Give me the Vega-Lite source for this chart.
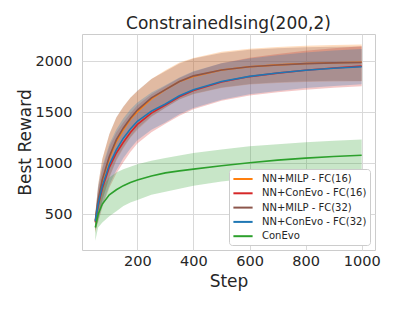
{
  "$schema": "https://vega.github.io/schema/vega-lite/v6.json",
  "width": 293,
  "height": 216,
  "autosize": "none",
  "padding": {"left": 82, "top": 34, "right": 24, "bottom": 60},
  "background": "white",
  "title": {"text": "ConstrainedIsing(200,2)", "fontSize": 17, "font": "DejaVu Sans", "fontWeight": "normal", "color": "#262626", "offset": 1},
  "config": {
    "view": {"stroke": "#cccccc", "strokeWidth": 1},
    "axis": {"domain": false, "ticks": false, "gridColor": "#d9d9d9", "gridWidth": 1, "labelFont": "DejaVu Sans", "titleFont": "DejaVu Sans", "labelFontSize": 14.5, "titleFontSize": 17, "titleFontWeight": "normal", "labelColor": "#262626", "titleColor": "#262626", "format": "d"},
    "legend": {"labelFont": "DejaVu Sans"}
  },
  "datasets": {
    "d": [
      {"series": "NN+MILP - FC(16)", "step": 50, "mean": 430, "lower": 320, "upper": 500},
      {"series": "NN+MILP - FC(16)", "step": 60, "mean": 620, "lower": 450, "upper": 780},
      {"series": "NN+MILP - FC(16)", "step": 75, "mean": 830, "lower": 635, "upper": 1040},
      {"series": "NN+MILP - FC(16)", "step": 100, "mean": 1050, "lower": 855, "upper": 1280},
      {"series": "NN+MILP - FC(16)", "step": 125, "mean": 1215, "lower": 1025, "upper": 1445},
      {"series": "NN+MILP - FC(16)", "step": 150, "mean": 1330, "lower": 1145, "upper": 1550},
      {"series": "NN+MILP - FC(16)", "step": 175, "mean": 1430, "lower": 1250, "upper": 1640},
      {"series": "NN+MILP - FC(16)", "step": 200, "mean": 1505, "lower": 1325, "upper": 1705},
      {"series": "NN+MILP - FC(16)", "step": 250, "mean": 1630, "lower": 1452, "upper": 1825},
      {"series": "NN+MILP - FC(16)", "step": 300, "mean": 1720, "lower": 1544, "upper": 1910},
      {"series": "NN+MILP - FC(16)", "step": 350, "mean": 1800, "lower": 1625, "upper": 1985},
      {"series": "NN+MILP - FC(16)", "step": 400, "mean": 1850, "lower": 1675, "upper": 2030},
      {"series": "NN+MILP - FC(16)", "step": 500, "mean": 1912, "lower": 1737, "upper": 2090},
      {"series": "NN+MILP - FC(16)", "step": 600, "mean": 1945, "lower": 1770, "upper": 2121},
      {"series": "NN+MILP - FC(16)", "step": 700, "mean": 1963, "lower": 1785, "upper": 2138},
      {"series": "NN+MILP - FC(16)", "step": 800, "mean": 1976, "lower": 1796, "upper": 2151},
      {"series": "NN+MILP - FC(16)", "step": 900, "mean": 1983, "lower": 1800, "upper": 2158},
      {"series": "NN+MILP - FC(16)", "step": 1000, "mean": 1988, "lower": 1803, "upper": 2163},

      {"series": "NN+ConEvo - FC(16)", "step": 50, "mean": 420, "lower": 340, "upper": 500},
      {"series": "NN+ConEvo - FC(16)", "step": 60, "mean": 580, "lower": 420, "upper": 740},
      {"series": "NN+ConEvo - FC(16)", "step": 75, "mean": 755, "lower": 565, "upper": 945},
      {"series": "NN+ConEvo - FC(16)", "step": 100, "mean": 960, "lower": 760, "upper": 1160},
      {"series": "NN+ConEvo - FC(16)", "step": 125, "mean": 1100, "lower": 900, "upper": 1300},
      {"series": "NN+ConEvo - FC(16)", "step": 150, "mean": 1205, "lower": 1010, "upper": 1400},
      {"series": "NN+ConEvo - FC(16)", "step": 175, "mean": 1300, "lower": 1110, "upper": 1490},
      {"series": "NN+ConEvo - FC(16)", "step": 200, "mean": 1380, "lower": 1192, "upper": 1568},
      {"series": "NN+ConEvo - FC(16)", "step": 250, "mean": 1490, "lower": 1304, "upper": 1676},
      {"series": "NN+ConEvo - FC(16)", "step": 300, "mean": 1570, "lower": 1385, "upper": 1755},
      {"series": "NN+ConEvo - FC(16)", "step": 350, "mean": 1650, "lower": 1465, "upper": 1835},
      {"series": "NN+ConEvo - FC(16)", "step": 400, "mean": 1712, "lower": 1528, "upper": 1896},
      {"series": "NN+ConEvo - FC(16)", "step": 500, "mean": 1795, "lower": 1611, "upper": 1979},
      {"series": "NN+ConEvo - FC(16)", "step": 600, "mean": 1848, "lower": 1663, "upper": 2033},
      {"series": "NN+ConEvo - FC(16)", "step": 700, "mean": 1882, "lower": 1695, "upper": 2069},
      {"series": "NN+ConEvo - FC(16)", "step": 800, "mean": 1910, "lower": 1720, "upper": 2100},
      {"series": "NN+ConEvo - FC(16)", "step": 900, "mean": 1932, "lower": 1739, "upper": 2125},
      {"series": "NN+ConEvo - FC(16)", "step": 1000, "mean": 1950, "lower": 1754, "upper": 2146},

      {"series": "NN+MILP - FC(32)", "step": 50, "mean": 440, "lower": 320, "upper": 500},
      {"series": "NN+MILP - FC(32)", "step": 60, "mean": 640, "lower": 460, "upper": 790},
      {"series": "NN+MILP - FC(32)", "step": 75, "mean": 840, "lower": 640, "upper": 1040},
      {"series": "NN+MILP - FC(32)", "step": 100, "mean": 1065, "lower": 865, "upper": 1285},
      {"series": "NN+MILP - FC(32)", "step": 125, "mean": 1230, "lower": 1035, "upper": 1450},
      {"series": "NN+MILP - FC(32)", "step": 150, "mean": 1345, "lower": 1155, "upper": 1555},
      {"series": "NN+MILP - FC(32)", "step": 175, "mean": 1440, "lower": 1255, "upper": 1640},
      {"series": "NN+MILP - FC(32)", "step": 200, "mean": 1520, "lower": 1340, "upper": 1710},
      {"series": "NN+MILP - FC(32)", "step": 250, "mean": 1640, "lower": 1460, "upper": 1825},
      {"series": "NN+MILP - FC(32)", "step": 300, "mean": 1720, "lower": 1542, "upper": 1900},
      {"series": "NN+MILP - FC(32)", "step": 350, "mean": 1800, "lower": 1624, "upper": 1975},
      {"series": "NN+MILP - FC(32)", "step": 400, "mean": 1855, "lower": 1680, "upper": 2025},
      {"series": "NN+MILP - FC(32)", "step": 500, "mean": 1912, "lower": 1740, "upper": 2080},
      {"series": "NN+MILP - FC(32)", "step": 600, "mean": 1945, "lower": 1775, "upper": 2110},
      {"series": "NN+MILP - FC(32)", "step": 700, "mean": 1962, "lower": 1792, "upper": 2125},
      {"series": "NN+MILP - FC(32)", "step": 800, "mean": 1975, "lower": 1803, "upper": 2135},
      {"series": "NN+MILP - FC(32)", "step": 900, "mean": 1982, "lower": 1807, "upper": 2140},
      {"series": "NN+MILP - FC(32)", "step": 1000, "mean": 1986, "lower": 1806, "upper": 2143},

      {"series": "NN+ConEvo - FC(32)", "step": 50, "mean": 430, "lower": 350, "upper": 510},
      {"series": "NN+ConEvo - FC(32)", "step": 60, "mean": 600, "lower": 440, "upper": 760},
      {"series": "NN+ConEvo - FC(32)", "step": 75, "mean": 775, "lower": 585, "upper": 965},
      {"series": "NN+ConEvo - FC(32)", "step": 100, "mean": 985, "lower": 785, "upper": 1185},
      {"series": "NN+ConEvo - FC(32)", "step": 125, "mean": 1130, "lower": 930, "upper": 1330},
      {"series": "NN+ConEvo - FC(32)", "step": 150, "mean": 1245, "lower": 1050, "upper": 1440},
      {"series": "NN+ConEvo - FC(32)", "step": 175, "mean": 1335, "lower": 1145, "upper": 1525},
      {"series": "NN+ConEvo - FC(32)", "step": 200, "mean": 1410, "lower": 1225, "upper": 1595},
      {"series": "NN+ConEvo - FC(32)", "step": 250, "mean": 1510, "lower": 1327, "upper": 1693},
      {"series": "NN+ConEvo - FC(32)", "step": 300, "mean": 1580, "lower": 1398, "upper": 1762},
      {"series": "NN+ConEvo - FC(32)", "step": 350, "mean": 1660, "lower": 1480, "upper": 1840},
      {"series": "NN+ConEvo - FC(32)", "step": 400, "mean": 1720, "lower": 1540, "upper": 1900},
      {"series": "NN+ConEvo - FC(32)", "step": 500, "mean": 1800, "lower": 1622, "upper": 1978},
      {"series": "NN+ConEvo - FC(32)", "step": 600, "mean": 1850, "lower": 1674, "upper": 2026},
      {"series": "NN+ConEvo - FC(32)", "step": 700, "mean": 1883, "lower": 1708, "upper": 2058},
      {"series": "NN+ConEvo - FC(32)", "step": 800, "mean": 1910, "lower": 1736, "upper": 2084},
      {"series": "NN+ConEvo - FC(32)", "step": 900, "mean": 1930, "lower": 1757, "upper": 2103},
      {"series": "NN+ConEvo - FC(32)", "step": 1000, "mean": 1945, "lower": 1773, "upper": 2117},

      {"series": "ConEvo", "step": 50, "mean": 370, "lower": 240, "upper": 470},
      {"series": "ConEvo", "step": 60, "mean": 500, "lower": 370, "upper": 640},
      {"series": "ConEvo", "step": 75, "mean": 600, "lower": 420, "upper": 770},
      {"series": "ConEvo", "step": 100, "mean": 690, "lower": 480, "upper": 860},
      {"series": "ConEvo", "step": 125, "mean": 740, "lower": 530, "upper": 910},
      {"series": "ConEvo", "step": 150, "mean": 780, "lower": 580, "upper": 940},
      {"series": "ConEvo", "step": 175, "mean": 810, "lower": 615, "upper": 965},
      {"series": "ConEvo", "step": 200, "mean": 835, "lower": 640, "upper": 990},
      {"series": "ConEvo", "step": 250, "mean": 875, "lower": 690, "upper": 1025},
      {"series": "ConEvo", "step": 300, "mean": 905, "lower": 720, "upper": 1050},
      {"series": "ConEvo", "step": 350, "mean": 925, "lower": 750, "upper": 1075},
      {"series": "ConEvo", "step": 400, "mean": 942, "lower": 780, "upper": 1100},
      {"series": "ConEvo", "step": 500, "mean": 975, "lower": 820, "upper": 1135},
      {"series": "ConEvo", "step": 600, "mean": 1005, "lower": 850, "upper": 1165},
      {"series": "ConEvo", "step": 700, "mean": 1030, "lower": 870, "upper": 1185},
      {"series": "ConEvo", "step": 800, "mean": 1050, "lower": 890, "upper": 1205},
      {"series": "ConEvo", "step": 900, "mean": 1065, "lower": 905, "upper": 1220},
      {"series": "ConEvo", "step": 1000, "mean": 1078, "lower": 915, "upper": 1232}
    ]
  },
  "data": {"name": "d"},
  "encoding": {
    "x": {"field": "step", "type": "quantitative", "title": "Step",
      "scale": {"domain": [2.5, 1047.5], "nice": false, "zero": false},
      "axis": {"values": [200, 400, 600, 800, 1000], "labelPadding": 4, "titlePadding": 6}}
  },
  "resolve": {"legend": {"color": "independent"}},
  "layer": [
    {
      "mark": {"type": "area", "opacity": 0.26},
      "encoding": {
        "y": {"field": "lower", "type": "quantitative", "stack": null, "title": "Best Reward",
          "scale": {"domain": [150, 2265], "nice": false, "zero": false},
          "axis": {"values": [500, 1000, 1500, 2000], "labelPadding": 10, "titlePadding": 1}},
        "y2": {"field": "upper"},
        "color": {"field": "series", "type": "nominal",
          "scale": {"domain": ["NN+MILP - FC(16)", "NN+ConEvo - FC(16)", "NN+MILP - FC(32)", "NN+ConEvo - FC(32)", "ConEvo"],
                    "range": ["#ff7f0e", "#d62728", "#8c564b", "#1f77b4", "#2ca02c"]},
          "legend": null}
      }
    },
    {
      "mark": {"type": "line", "strokeWidth": 1.6},
      "encoding": {
        "y": {"field": "mean", "type": "quantitative"},
        "color": {"field": "series", "type": "nominal",
          "scale": {"domain": ["NN+MILP - FC(16)", "NN+ConEvo - FC(16)", "NN+MILP - FC(32)", "NN+ConEvo - FC(32)", "ConEvo"],
                    "range": ["#ff7f0e", "#d62728", "#8c564b", "#1f77b4", "#2ca02c"]},
          "legend": {"title": null, "orient": "bottom-right", "offset": 5, "fillColor": "white", "strokeColor": "#cccccc", "cornerRadius": 3, "padding": 3,
            "labelFontSize": 10, "labelColor": "#262626", "symbolType": "M-1.6,0H1.6", "symbolSize": 144, "symbolStrokeWidth": 2, "symbolOffset": 4, "rowPadding": 2.3, "labelOffset": 12}}
      }
    }
  ]
}
